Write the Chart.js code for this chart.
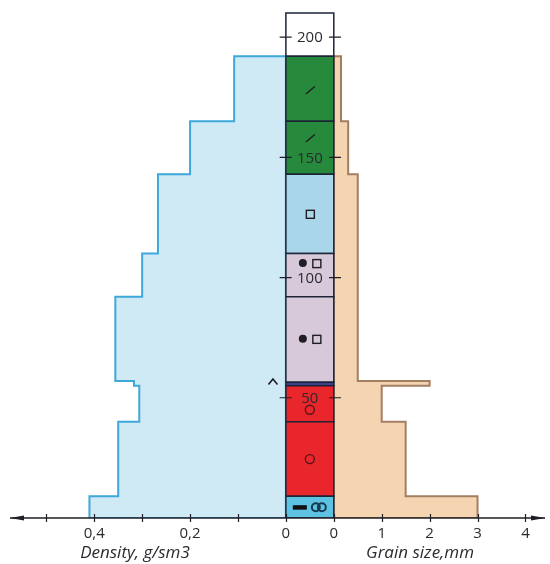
<!DOCTYPE html>
<html>
<head>
<meta charset="utf-8">
<script src="https://cdn.jsdelivr.net/npm/chart.js@4/dist/chart.umd.min.js"></script>
<style>
  html, body { margin: 0; padding: 0; background: #fff; }
</style>
</head>
<body>
<canvas id="profile" width="550" height="564"></canvas>
<script>
// tick values and labels
const heightTicks = [50, 100, 150, 200];
const densityTicks = [0.5, 0.4, 0.3, 0.2, 0.1, 0];
const densityTickLabels = ['', '0,4', '', '0,2', '', '0'];
const grainTicks = [0, 1, 2, 3, 4];
const grainTickLabels = ['0', '1', '2', '3', '4'];

// density profile, cm from the ground
const densityBottom = [0, 9, 40, 55, 57, 92, 110, 143, 165];
const densityTop = [9, 40, 55, 57, 92, 110, 143, 165, 192];
const density = [0.41, 0.35, 0.306, 0.317, 0.356, 0.30, 0.267, 0.20, 0.108];

// grain size profile
const grainBottom = [0, 9, 40, 55, 57, 143, 165];
const grainTop = [9, 40, 55, 57, 143, 165, 192];
const grainSize = [3.0, 1.5, 1.0, 2.0, 0.5, 0.3, 0.15];

// stratigraphy column
const layerBottom = [0, 9, 40, 55, 56.5, 92, 110, 143, 165, 192];
const layerTop = [9, 40, 55, 56.5, 92, 110, 143, 165, 192, 210];
const layerColor = ['#5ec3e2', '#e8262b', '#e8262b', '#3c3f8c', '#d7c9da', '#d7c9da', '#a9d7e9', '#26893b', '#26893b', '#ffffff'];

// grain shape symbols inside the column
const symbolHeight = [4.5, 24.5, 45, 74.5, 106, 126.5, 158, 178];
const symbolKind = ['barRings', 'circle', 'circle', 'dotSquare', 'dotSquare', 'square', 'slash', 'slash'];
const caretHeight = 57;

// one shared x axis: density goes left of the column, grain size right of it
const densityPos = d => -d * 10;
const grainPos = g => 1 + g;

const axisTicks = densityTicks.map(densityPos).concat(grainTicks.map(grainPos));
const axisLabels = densityTickLabels.concat(grainTickLabels);

function stepOutline(base, values, bottoms, tops, toPos) {
    const pts = [{x: base, y: 0}];
    values.forEach((v, i) => {
        pts.push({x: toPos(v), y: bottoms[i]});
        pts.push({x: toPos(v), y: tops[i]});
    });
    pts.push({x: base, y: tops[tops.length - 1]});
    pts.push({x: base, y: 0});
    return pts;
}

const layerSets = layerColor.map((c, i) => ({
    data: [
        {x: 0, y: layerBottom[i]}, {x: 1, y: layerBottom[i]},
        {x: 1, y: layerTop[i]}, {x: 0, y: layerTop[i]}, {x: 0, y: layerBottom[i]}
    ],
    backgroundColor: c,
    borderColor: '#1c2536',
    borderWidth: 1.5,
    fill: 'shape',
    order: 0
}));

const DARK = '#1e1e24';

const overlay = {
    id: 'overlay',
    afterDatasetsDraw(chart) {
        const {ctx, chartArea, scales: {x, y}} = chart;
        const y0 = y.getPixelForValue(0);
        ctx.save();

        // axis line with arrows
        ctx.strokeStyle = DARK;
        ctx.fillStyle = DARK;
        ctx.lineWidth = 1.5;
        ctx.beginPath();
        ctx.moveTo(chartArea.left + 2, y0);
        ctx.lineTo(chartArea.right - 2, y0);
        ctx.stroke();
        ctx.beginPath();
        ctx.moveTo(chartArea.left + 2, y0);
        ctx.lineTo(chartArea.left + 16, y0 - 2.5);
        ctx.lineTo(chartArea.left + 16, y0 + 2.5);
        ctx.closePath();
        ctx.fill();
        ctx.beginPath();
        ctx.moveTo(chartArea.right - 2, y0);
        ctx.lineTo(chartArea.right - 16, y0 - 2.5);
        ctx.lineTo(chartArea.right - 16, y0 + 2.5);
        ctx.closePath();
        ctx.fill();

        // tick marks crossing the axis
        ctx.lineWidth = 1.2;
        axisTicks.forEach(v => {
            const px = Math.round(x.getPixelForValue(v)) + 0.5;
            ctx.beginPath();
            ctx.moveTo(px, y0 - 4);
            ctx.lineTo(px, y0 + 4);
            ctx.stroke();
        });

        // height ticks on both sides of the column
        ctx.font = '15px "Open Sans", sans-serif';
        ctx.textAlign = 'center';
        ctx.textBaseline = 'middle';
        heightTicks.forEach(h => {
            const py = y.getPixelForValue(h);
            ctx.beginPath();
            ctx.moveTo(x.getPixelForValue(-0.13), py);
            ctx.lineTo(x.getPixelForValue(0.12), py);
            ctx.moveTo(x.getPixelForValue(0.9), py);
            ctx.lineTo(x.getPixelForValue(1.15), py);
            ctx.stroke();
            ctx.fillStyle = '#2a2a30';
            ctx.fillText(String(h), x.getPixelForValue(0.5), py + 1);
        });

        // grain shape symbols
        const cx = x.getPixelForValue(0.5);
        symbolKind.forEach((kind, i) => {
            const py = y.getPixelForValue(symbolHeight[i]);
            ctx.strokeStyle = DARK;
            ctx.fillStyle = DARK;
            ctx.lineWidth = 1.4;
            if (kind === 'slash') {
                ctx.beginPath();
                ctx.moveTo(cx - 4, py + 4);
                ctx.lineTo(cx + 5, py - 3.5);
                ctx.stroke();
            } else if (kind === 'square') {
                ctx.strokeRect(cx - 3.5, py - 3.5, 8, 8);
            } else if (kind === 'dotSquare') {
                ctx.beginPath();
                ctx.arc(cx - 7, py, 4, 0, Math.PI * 2);
                ctx.fill();
                ctx.strokeRect(cx + 3, py - 3.5, 8, 8);
            } else if (kind === 'circle') {
                ctx.strokeStyle = '#5a1414';
                ctx.beginPath();
                ctx.arc(cx, py, 4.5, 0, Math.PI * 2);
                ctx.stroke();
            } else if (kind === 'barRings') {
                ctx.fillStyle = '#111';
                ctx.fillRect(cx - 17, py - 2, 14, 4.5);
                ctx.strokeStyle = '#163a52';
                ctx.lineWidth = 2;
                ctx.beginPath();
                ctx.arc(cx + 6, py, 4, 0, Math.PI * 2);
                ctx.stroke();
                ctx.beginPath();
                ctx.arc(cx + 12, py, 4, 0, Math.PI * 2);
                ctx.stroke();
            }
        });

        // caret mark left of the column
        const kx = x.getPixelForValue(-0.27);
        const ky = y.getPixelForValue(caretHeight);
        ctx.strokeStyle = DARK;
        ctx.lineWidth = 1.6;
        ctx.beginPath();
        ctx.moveTo(kx - 4.5, ky + 3.5);
        ctx.lineTo(kx, ky - 2);
        ctx.lineTo(kx + 4.5, ky + 3.5);
        ctx.stroke();

        // axis titles
        ctx.font = 'italic 17px "Open Sans", sans-serif';
        ctx.textBaseline = 'alphabetic';
        ctx.fillStyle = '#2a2a30';
        ctx.fillText('Density, g/sm3', x.getPixelForValue(densityPos(0.315)), 558);
        ctx.fillText('Grain size,mm', x.getPixelForValue(grainPos(1.8)), 558);

        ctx.restore();
    }
};

new Chart(document.getElementById('profile').getContext('2d'), {
    type: 'line',
    data: {
        datasets: layerSets.concat([
            {
                data: stepOutline(0, density, densityBottom, densityTop, densityPos),
                backgroundColor: '#cfe9f5',
                borderColor: '#3ea8da',
                borderWidth: 2,
                fill: 'shape',
                order: 1
            },
            {
                data: stepOutline(1, grainSize, grainBottom, grainTop, grainPos),
                backgroundColor: '#f5d4b2',
                borderColor: '#a27e62',
                borderWidth: 2,
                fill: 'shape',
                order: 1
            }
        ])
    },
    options: {
        responsive: false,
        animation: false,
        layout: { padding: { left: 8, right: 3, top: 1, bottom: 0 } },
        elements: {
            point: { radius: 0, hoverRadius: 0 },
            line: { tension: 0, borderJoinStyle: 'miter' }
        },
        plugins: {
            legend: { display: false },
            tooltip: { enabled: false }
        },
        scales: {
            x: {
                type: 'linear',
                min: -5.8,
                max: 5.45,
                afterBuildTicks: scale => {
                    scale.ticks = axisTicks.map(v => ({value: v}));
                },
                afterFit: scale => { scale.height = 46; },
                grid: { display: false, drawTicks: false },
                border: { display: false },
                ticks: {
                    autoSkip: false,
                    maxRotation: 0,
                    padding: 7,
                    color: '#2a2a30',
                    font: { family: '"Open Sans", sans-serif', size: 15 },
                    callback: (value, index) => axisLabels[index]
                }
            },
            y: {
                type: 'linear',
                display: false,
                min: 0,
                max: 215
            }
        }
    },
    plugins: [overlay]
});
</script>
</body>
</html>
